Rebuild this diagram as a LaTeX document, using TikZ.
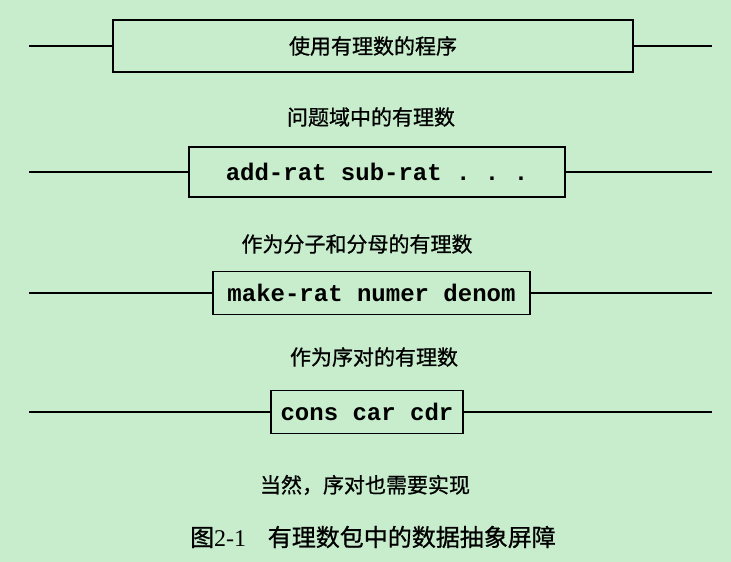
\documentclass[tikz,border=0pt]{standalone}
\usepackage{fontspec}
\setmainfont{Liberation Serif}
\setmonofont{Liberation Mono}
\newfontfamily\cjk[FakeBold=0.8]{Noto Sans CJK SC}
\definecolor{bg}{RGB}{199,237,204}
\begin{document}
\begin{tikzpicture}[x=1pt,y=-1pt,
  box/.style={draw=black, line width=1.9pt, inner sep=0pt, anchor=center,
    font=\ttfamily\bfseries\fontsize{24}{24}\selectfont},
  lab/.style={inner sep=0pt, anchor=center, font=\cjk\fontsize{21}{21}\selectfont},
  wire/.style={line width=1.9pt}]
\fill[bg] (0,0) rectangle (731,562);
\useasboundingbox (0,0) rectangle (731,562);

% boxes
\node[box, minimum width=520pt, minimum height=52pt, font=\cjk\fontsize{21}{21}\selectfont] (b1) at (373,46) {使用有理数的程序};
\node[box, minimum width=376pt, minimum height=50pt] (b2) at (377,172) {add-rat sub-rat . . .};
\node[box, minimum width=317pt, minimum height=43pt] (b3) at (371.5,293) {make-rat numer denom};
\node[box, minimum width=192pt, minimum height=43pt] (b4) at (367,412) {cons car cdr};

% wire ends
\coordinate (l1) at (29,46);  \coordinate (r1) at (712,46);
\coordinate (l2) at (29,172); \coordinate (r2) at (712,172);
\coordinate (l3) at (29,293); \coordinate (r3) at (712,293);
\coordinate (l4) at (29,412); \coordinate (r4) at (712,412);
\draw[wire] (l1) -- (b1.west);  \draw[wire] (b1.east) -- (r1);
\draw[wire] (l2) -- (b2.west);  \draw[wire] (b2.east) -- (r2);
\draw[wire] (l3) -- (b3.west);  \draw[wire] (b3.east) -- (r3);
\draw[wire] (l4) -- (b4.west);  \draw[wire] (b4.east) -- (r4);

% labels
\node[lab] (t1) at (371,117) {问题域中的有理数};
\node[lab] (t2) at (357,244) {作为分子和分母的有理数};
\node[lab] (t3) at (374,357) {作为序对的有理数};
\node[lab] (t4) at (365,485) {当然，序对也需要实现};
\node[lab, font=\fontsize{24}{24}\selectfont] (cap) at (373,537) {{\cjk 图}2-1\hspace{0.9em}{\cjk 有理数包中的数据抽象屏障}};
\end{tikzpicture}
\end{document}
